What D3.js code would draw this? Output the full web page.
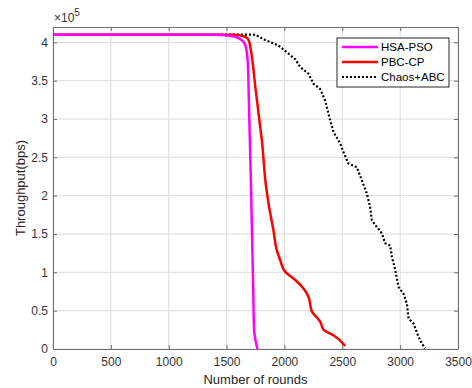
<!DOCTYPE html>
<meta charset="utf-8">
<script src="https://d3js.org/d3.v7.min.js"></script>
<style>
body{margin:0;background:#fff;}
text{font-family:"Liberation Sans",Arial,sans-serif;}
</style>
<body>
<div id="chart"></div>
<script>
// data (throughput in units of 1e5 bps)
var hsaX = [0,1400,1500,1580,1630,1665,1685,1690,1700,1710,1720,1730,1738,1767];
var hsaY = [4.1,4.1,4.09,4.07,4.03,3.95,3.7,3.4,2.8,2.2,1.5,0.8,0.25,0];
var pbcX = [0,1550,1620,1660,1690,1710,1720,1750,1784,1805,1842,1868,1905,1934,1963,2006,2093,2165,2208,2237,2310,2338,2424,2525];
var pbcY = [4.1,4.1,4.09,4.07,4.03,3.9,3.8,3.4,2.98,2.72,2.11,1.85,1.55,1.29,1.16,1.01,0.9,0.79,0.68,0.49,0.355,0.25,0.18,0.04];
var chaosX = [0,1730,1761,1834,1946,2021,2093,2136,2208,2251,2309,2352,2396,2424,2482,2510,2553,2626,2669,2712,2741,2755,2799,2842,2871,2914,2929,2958,2986,3029,3058,3073,3116,3159,3188,3217];
var chaosY = [4.1,4.1,4.09,4.03,3.96,3.87,3.78,3.68,3.59,3.46,3.39,3.24,2.98,2.83,2.68,2.57,2.42,2.37,2.2,2.03,1.85,1.68,1.59,1.51,1.38,1.35,1.2,1.03,0.81,0.72,0.59,0.4,0.33,0.16,0.07,0.01];
var xTicks = [0,500,1000,1500,2000,2500,3000,3500];
var yTicks = [0,0.5,1,1.5,2,2.5,3,3.5,4];
var names = ["HSA-PSO","PBC-CP","Chaos+ABC"];

var W = 472, H = 388;
var m = {left:53, right:14, top:27, bottom:39};
var svg = d3.select('#chart').append('svg').attr('width',W).attr('height',H);
var x = d3.scaleLinear().domain([0,3500]).range([m.left, W-m.right]);
var y = d3.scaleLinear().domain([0,4.2]).range([H-m.bottom, m.top]);

// grid
var g = svg.append('g');
g.selectAll('.gx').data(xTicks).enter().append('line')
  .attr('x1',d=>x(d)).attr('x2',d=>x(d)).attr('y1',y(0)).attr('y2',y(4.2))
  .attr('stroke','#dcdcdc').attr('stroke-width',1);
g.selectAll('.gy').data(yTicks).enter().append('line')
  .attr('y1',d=>y(d)).attr('y2',d=>y(d)).attr('x1',x(0)).attr('x2',x(3500))
  .attr('stroke','#dcdcdc').attr('stroke-width',1);

// axes
var ax = svg.append('g').attr('transform','translate(0,'+y(0)+')')
  .call(d3.axisBottom(x).tickValues(xTicks).tickSizeInner(-4).tickSizeOuter(0).tickPadding(8).tickFormat(d3.format('d')));
var ay = svg.append('g').attr('transform','translate('+x(0)+',0)')
  .call(d3.axisLeft(y).tickValues(yTicks).tickSizeInner(-4).tickSizeOuter(0).tickPadding(5).tickFormat(d3.format('')));
var axTop = svg.append('g').attr('transform','translate(0,'+y(4.2)+')')
  .call(d3.axisTop(x).tickValues(xTicks).tickSizeInner(-4).tickSizeOuter(0).tickFormat(''));
var ayR = svg.append('g').attr('transform','translate('+x(3500)+',0)')
  .call(d3.axisRight(y).tickValues(yTicks).tickSizeInner(-4).tickSizeOuter(0).tickFormat(''));
[ax,ay,axTop,ayR].forEach(function(a){
  a.select('.domain').attr('stroke','#6e6e6e');
  a.selectAll('.tick line').attr('stroke','#6e6e6e');
  a.selectAll('text').attr('fill','#333').style('font-size','12px').style('font-family','"Liberation Sans",Arial,sans-serif');
});

// curves
var line = d3.line().x(d=>x(d[0])).y(d=>y(d[1]));
function pts(xs,ys){ return xs.map((v,i)=>[v,ys[i]]); }
svg.append('path').datum(pts(chaosX,chaosY)).attr('d',line).attr('fill','none')
  .attr('stroke','#000').attr('stroke-width',2.2).attr('stroke-dasharray','2,2');
svg.append('path').datum(pts(pbcX,pbcY)).attr('d',line.curve(d3.curveMonotoneY)).attr('fill','none')
  .attr('stroke','#ff0000').attr('stroke-width',2.5);
svg.append('path').datum(pts(hsaX,hsaY)).attr('d',line).attr('fill','none')
  .attr('stroke','#ff00ff').attr('stroke-width',2.5);

// exponent label
var ex = svg.append('text').attr('x',54).attr('y',22).attr('fill','#333').style('font-size','12px');
ex.append('tspan').text('\u00d710');
ex.append('tspan').attr('dy',-6).style('font-size','10px').text('5');

// axis titles
svg.append('text').attr('x',(x(0)+x(3500))/2).attr('y',384).attr('text-anchor','middle')
  .attr('fill','#262626').style('font-size','13px').text('Number of rounds');
svg.append('text').attr('transform','translate(25,'+((y(0)+y(4.2))/2)+') rotate(-90)')
  .attr('text-anchor','middle').attr('fill','#262626').style('font-size','13px').text('Throughput(bps)');

// legend
var lg = svg.append('g');
lg.append('rect').attr('x',337).attr('y',38).attr('width',112).attr('height',49)
  .attr('fill','#fff').attr('stroke','#262626').attr('stroke-width',1);
var styles = [{c:'#ff00ff',d:null},{c:'#ff0000',d:null},{c:'#000',d:'2,2'}];
names.forEach(function(n,i){
  var yy = 47 + i*15;
  lg.append('line').attr('x1',342).attr('x2',378).attr('y1',yy).attr('y2',yy)
    .attr('stroke',styles[i].c).attr('stroke-width',styles[i].d?2:2.5).attr('stroke-dasharray',styles[i].d);
  lg.append('text').attr('x',381).attr('y',yy+4).attr('fill','#000').style('font-size','11.5px').text(n);
});
</script>
</body>
